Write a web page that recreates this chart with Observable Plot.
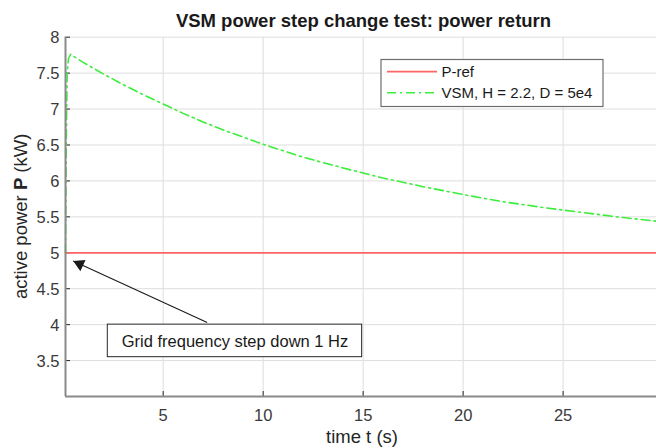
<!DOCTYPE html>
<html>
<head>
<meta charset="utf-8">
<script src="https://cdn.jsdelivr.net/npm/d3@7"></script>
<script src="https://cdn.jsdelivr.net/npm/@observablehq/plot@0.6"></script>
<style>
  html, body { margin: 0; padding: 0; background: white; }
  #chart { width: 656px; height: 448px; }
</style>
</head>
<body>
<div id="chart"></div>
<script>
// ---- data ----
const titleText = "VSM power step change test: power return";
const xLabel = "time t (s)";
const seriesNames = ["P-ref", "VSM, H = 2.2, D = 5e4"];
const xDomain = [0.115, 29.67];
const yDomain = [3, 8];
const xTicks = [5, 10, 15, 20, 25];
const yTicks = [3.5, 4, 4.5, 5, 5.5, 6, 6.5, 7, 7.5, 8];

const tRef = [0.115, 29.67];
const pRef = [5, 5];

const tVSM = [0.115, 0.14, 0.17, 0.2, 0.26, 0.37, 1, 2, 3, 4, 5, 6, 7, 8, 10, 12, 14, 16, 18, 20, 22, 24, 26, 28, 29.67];
const pVSM = [5.0, 6.0, 6.9, 7.5, 7.7, 7.76, 7.65, 7.49, 7.34, 7.2, 7.07, 6.94, 6.82, 6.71, 6.51, 6.33, 6.18, 6.04, 5.92, 5.81, 5.71, 5.63, 5.56, 5.49, 5.44];

const annotationText = "Grid frequency step down 1 Hz";
const annBoxT = [2.23, 14.95];
const annBoxP = [3.547, 4.0];
const arrowTail = [7.2, 4.03];
const arrowTip = [0.5, 4.885];

// ---- build ----
const refData = tRef.map((t, i) => ({t, p: pRef[i]}));
const vsmData = tVSM.map((t, i) => ({t, p: pVSM[i]}));

const W = 656, H = 448, mL = 65, mR = 0, mT = 36.7, mB = 52;
const plotW = W - mL - mR, plotH = H - mT - mB;
const red = "#ff6464", green = "#3bee3b";
const dash = "9,4,2,4";
const font = "'Liberation Sans', Arial, Helvetica, sans-serif";
const fmt = d => String(d);

const chart = Plot.plot({
  width: W, height: H,
  marginLeft: mL, marginRight: mR, marginTop: mT, marginBottom: mB,
  x: {domain: xDomain},
  y: {domain: yDomain},
  style: {fontFamily: font, fontSize: "16.5px", color: "#262626", background: "white", overflow: "visible"},
  marks: [
    Plot.gridX(xTicks, {stroke: "#dedede", strokeOpacity: 1, strokeWidth: 1}),
    Plot.gridY(yTicks, {stroke: "#dedede", strokeOpacity: 1, strokeWidth: 1}),
    Plot.axisX(xTicks, {tickSize: 0, tickPadding: 13, label: null, fill: "#3a3a3a", tickFormat: fmt}),
    Plot.axisY(yTicks, {tickSize: 0, tickPadding: 6, label: null, fill: "#3a3a3a", dy: 1, tickFormat: fmt}),
    Plot.ruleY(yTicks, {stroke: "#262626", strokeWidth: 1, insetRight: plotW - 5}),
    Plot.ruleX(xTicks, {stroke: "#262626", strokeWidth: 1, insetTop: plotH - 5}),
    Plot.line(refData, {x: "t", y: "p", stroke: red, strokeWidth: 1.8}),
    Plot.line(vsmData, {x: "t", y: "p", stroke: green, strokeWidth: 1.6, strokeDasharray: dash}),
    Plot.ruleX([xDomain[0]], {stroke: "#8a8a8a", strokeWidth: 2}),
    Plot.ruleY([yDomain[0]], {stroke: "#8a8a8a", strokeWidth: 2}),
    // annotation
    Plot.link([{x1: arrowTail[0], y1: arrowTail[1], x2: arrowTip[0], y2: arrowTip[1]}],
      {x1: "x1", y1: "y1", x2: "x2", y2: "y2", stroke: "#1a1a1a", strokeWidth: 1.1}),
    Plot.dot([{x: arrowTip[0], y: arrowTip[1]}],
      {x: "x", y: "y", symbol: "triangle", r: 4.6, fill: "#1a1a1a", stroke: "none", rotate: -65.3, dx: 6.5, dy: 3.0}),
    Plot.rect([{x1: annBoxT[0], x2: annBoxT[1], y1: annBoxP[0], y2: annBoxP[1]}],
      {x1: "x1", x2: "x2", y1: "y1", y2: "y2", fill: "white", stroke: "#262626", strokeWidth: 1}),
    Plot.text([annotationText], {x: (annBoxT[0] + annBoxT[1]) / 2, y: (annBoxP[0] + annBoxP[1]) / 2,
      text: d => d, fontSize: 16.5, fill: "#1a1a1a", dy: 1})
  ]
});

document.getElementById("chart").appendChild(chart);
const svg = d3.select(chart);

// title
svg.append("text")
  .attr("x", 363.5).attr("y", 27)
  .attr("text-anchor", "middle")
  .attr("font-family", font).attr("font-size", 18.5).attr("font-weight", "bold")
  .attr("fill", "#1a1a1a")
  .text(titleText);

// x label
svg.append("text")
  .attr("x", 362).attr("y", 443)
  .attr("text-anchor", "middle")
  .attr("font-family", font).attr("font-size", 18.5)
  .attr("fill", "#262626")
  .text(xLabel);

// y label with bold P
const yl = svg.append("text")
  .attr("transform", `translate(27, ${mT + plotH / 2}) rotate(-90)`)
  .attr("text-anchor", "middle")
  .attr("font-family", font).attr("font-size", 18.5)
  .attr("fill", "#262626");
yl.append("tspan").text("active power ");
yl.append("tspan").attr("font-weight", "bold").text("P");
yl.append("tspan").text(" (kW)");

// legend
const lg = svg.append("g");
lg.append("rect").attr("x", 381).attr("y", 59.5).attr("width", 222).attr("height", 47)
  .attr("fill", "white").attr("stroke", "#6e6e6e").attr("stroke-width", 1.2);
const rows = [
  {name: seriesNames[0], color: red, dash: null, y: 71.7, w: 1.8},
  {name: seriesNames[1], color: green, dash: dash, y: 92.7, w: 1.6}
];
rows.forEach(r => {
  lg.append("line").attr("x1", 387).attr("x2", 437).attr("y1", r.y).attr("y2", r.y)
    .attr("stroke", r.color).attr("stroke-width", r.w)
    .attr("stroke-dasharray", r.dash);
  lg.append("text").attr("x", 441.5).attr("y", r.y + 1.5)
    .attr("text-anchor", "start")
    .attr("dominant-baseline", "middle")
    .attr("font-family", font).attr("font-size", 15)
    .attr("fill", "#1a1a1a").text(r.name);
});
</script>
</body>
</html>
